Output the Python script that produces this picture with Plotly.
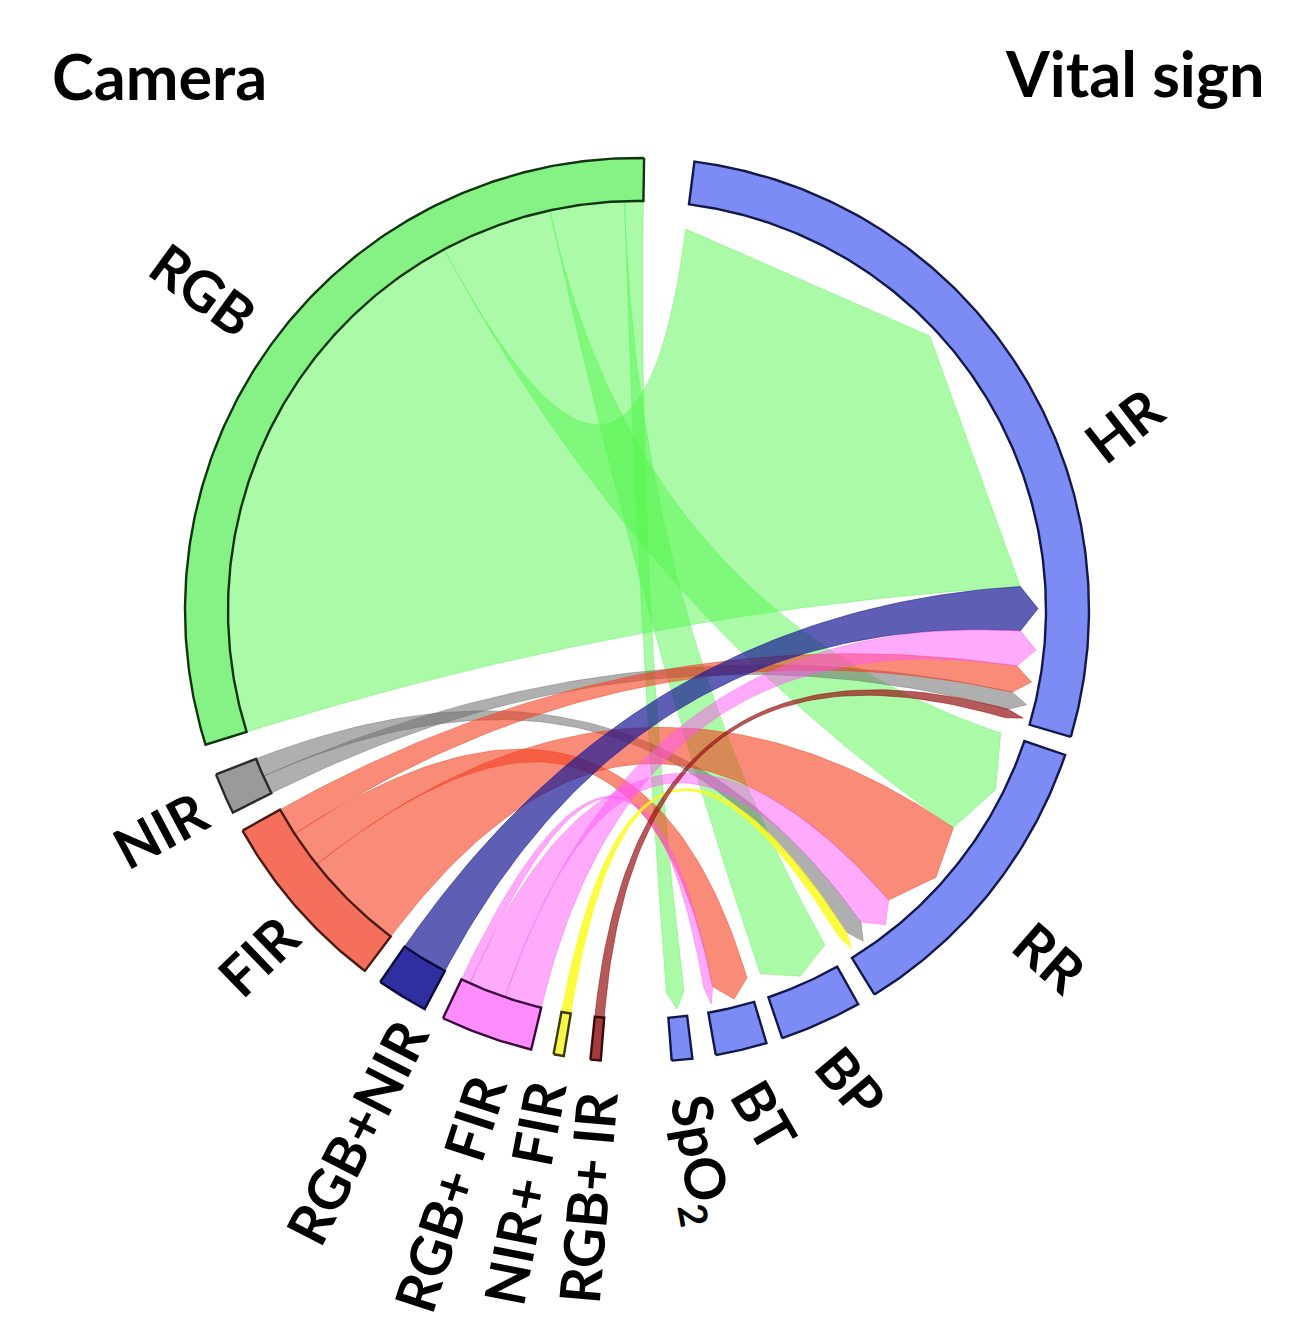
import math
import plotly.graph_objects as go

# ---------------- data ----------------
vitals = ["HR", "RR", "BP", "BT", "SpO2"]
vital_labels = ["HR", "RR", "BP", "BT", "SpO<sub>2</sub>"]
cameras = ["RGB", "NIR", "FIR", "RGB+NIR", "RGB+FIR", "NIR+FIR", "RGB+IR"]
camera_labels = ["RGB", "NIR", "FIR", "RGB+NIR", "RGB+ FIR", "NIR+ FIR", "RGB+ IR"]

# number of links camera -> vital sign (columns follow `vitals`)
rgb_links = [60, 12, 8, 0, 2]
nir_links = [2, 2, 0, 0, 0]
fir_links = [3, 11, 0, 4, 0]
rgb_nir_links = [5, 0, 0, 0, 0]
rgb_fir_links = [4, 4, 0, 1, 0]
nir_fir_links = [0, 1, 0, 0, 0]
rgb_ir_links = [1, 0, 0, 0, 0]

matrix = [rgb_links, nir_links, fir_links, rgb_nir_links,
          rgb_fir_links, nir_fir_links, rgb_ir_links]

# ---------------- layout / style ----------------
W, H = 1303, 1337
CX, CY = 637, 610
R_OUT, R_IN = 452, 409
R_TGT, R_TIP = 384, 401
START = 82.7
order = vitals + cameras[::-1]          # clockwise from the top
gaps = [2.4, 2.4, 2.1, 3.0, 9.0, 3.4, 2.9, 2.6, 2.4, 2.6, 4.0, 6.4]

vital_fill = "#7D8CF5"
ring_fill = {"HR": vital_fill, "RR": vital_fill, "BP": vital_fill, "BT": vital_fill,
             "SpO2": vital_fill, "RGB": "#86F286", "NIR": "#9A9A9A", "FIR": "#F4705C",
             "RGB+NIR": "#2F2F9F", "RGB+FIR": "#FF8CFF", "NIR+FIR": "#F7F74A",
             "RGB+IR": "#A23C3C"}
vital_line = "#12184A"
ring_line = {"HR": vital_line, "RR": vital_line, "BP": vital_line, "BT": vital_line,
             "SpO2": vital_line, "RGB": "#0F350F", "NIR": "#2A2A2A", "FIR": "#4A1A10",
             "RGB+NIR": "#0A0A40", "RGB+FIR": "#3A0A3A", "NIR+FIR": "#3A3A00",
             "RGB+IR": "#3A0A0A"}
chord_rgba = {"RGB": "rgba(85,245,80,0.5)", "NIR": "rgba(110,110,110,0.55)",
              "FIR": "rgba(243,63,30,0.6)", "RGB+NIR": "rgba(26,26,148,0.7)",
              "RGB+FIR": "rgba(255,85,245,0.5)", "NIR+FIR": "rgba(250,250,30,0.85)",
              "RGB+IR": "rgba(150,20,20,0.7)"}

# label placement (polar position around the centre, rotation)
label_theta = {"RGB": 143.5, "HR": 20.8, "NIR": 204.7, "FIR": 222.4, "RGB+NIR": 241.7,
               "RGB+FIR": 252.2, "NIR+FIR": 259.0, "RGB+IR": 265.2, "SpO2": 276.4,
               "BT": 284.2, "BP": 294.4, "RR": 320.0}
label_r = {"RGB": 539, "HR": 521, "NIR": 525, "FIR": 513, "RGB+NIR": 592,
           "RGB+FIR": 613, "NIR+FIR": 593, "RGB+IR": 589, "SpO2": 553,
           "BT": 521, "BP": 519, "RR": 540}
label_rot = {"RGB": 36, "HR": -38, "NIR": -28, "FIR": -44, "RGB+NIR": -63,
             "RGB+FIR": -72, "NIR+FIR": -79, "RGB+IR": -85, "SpO2": 80,
             "BT": 60, "BP": 50, "RR": 41}
FONT = "Lato"

# ---------------- geometry ----------------
totals = {}
for i, c in enumerate(cameras):
    totals[c] = sum(matrix[i])
for j, v in enumerate(vitals):
    totals[v] = sum(matrix[i][j] for i in range(len(cameras)))
unit = (360.0 - sum(gaps)) / sum(totals.values())

span = {}
cur = START
for name, g in zip(order, gaps):
    hi = cur
    lo = hi - totals[name] * unit
    span[name] = (lo, hi)
    cur = lo - g


def pt(r, deg):
    a = math.radians(deg)
    return CX + r * math.cos(a), CY - r * math.sin(a)


def arc(r, a0, a1):
    n = max(2, int(abs(a1 - a0) * 2) + 2)
    return [pt(r, a0 + (a1 - a0) * k / (n - 1)) for k in range(n)]


def bez(p0, p2, n=70):
    out = []
    for k in range(n):
        t = k / (n - 1)
        x = (1 - t) ** 2 * p0[0] + 2 * (1 - t) * t * CX + t * t * p2[0]
        y = (1 - t) ** 2 * p0[1] + 2 * (1 - t) * t * CY + t * t * p2[1]
        out.append((x, y))
    return out


# link slots: sorted decreasing, placed clockwise from each sector's ccw end
src_slot, tgt_slot = {}, {}
for i, c in enumerate(cameras):
    idx = sorted([j for j in range(len(vitals)) if matrix[i][j] > 0],
                 key=lambda j: -matrix[i][j])
    cur = span[c][1]
    for j in idx:
        w = matrix[i][j] * unit
        src_slot[(i, j)] = (cur - w, cur)
        cur -= w
for j, v in enumerate(vitals):
    idx = sorted([i for i in range(len(cameras)) if matrix[i][j] > 0],
                 key=lambda i: -matrix[i][j])
    cur = span[v][1]
    for i in idx:
        w = matrix[i][j] * unit
        tgt_slot[(i, j)] = (cur - w, cur)
        cur -= w

fig = go.Figure()

# chords
for i, c in enumerate(cameras):
    for j, v in enumerate(vitals):
        if matrix[i][j] <= 0:
            continue
        s1, s2 = src_slot[(i, j)]
        t1, t2 = tgt_slot[(i, j)]
        pts = arc(R_IN, s1, s2)
        pts += bez(pt(R_IN, s2), pt(R_TGT, t1))
        pts += [pt(R_TIP, (t1 + t2) / 2), pt(R_TGT, t2)]
        pts += bez(pt(R_TGT, t2), pt(R_IN, s1))
        xs = [p[0] for p in pts] + [pts[0][0]]
        ys = [p[1] for p in pts] + [pts[0][1]]
        fig.add_trace(go.Scatter(x=xs, y=ys, mode="lines", fill="toself",
                                 fillcolor=chord_rgba[c],
                                 line=dict(color=chord_rgba[c], width=0.8),
                                 hoverinfo="skip", showlegend=False))

# sector rings
for name in order:
    lo, hi = span[name]
    pts = arc(R_OUT, lo, hi) + arc(R_IN, hi, lo)
    xs = [p[0] for p in pts] + [pts[0][0]]
    ys = [p[1] for p in pts] + [pts[0][1]]
    fig.add_trace(go.Scatter(x=xs, y=ys, mode="lines", fill="toself",
                             fillcolor=ring_fill[name],
                             line=dict(color=ring_line[name], width=2.4),
                             hoverinfo="skip", showlegend=False))

# labels
all_labels = dict(zip(cameras, camera_labels))
all_labels.update(dict(zip(vitals, vital_labels)))
annotations = []
for name in order:
    x, y = pt(label_r[name], label_theta[name])
    annotations.append(dict(x=x, y=y, xref="x", yref="y", showarrow=False,
                            text="<b>%s</b>" % all_labels[name],
                            textangle=label_rot[name], xanchor="center",
                            yanchor="middle",
                            font=dict(family=FONT, size=56, color="black")))
annotations.append(dict(x=50, y=75, xref="x", yref="y", showarrow=False,
                        text="<b>Camera</b>", xanchor="left", yanchor="middle",
                        font=dict(family=FONT, size=63, color="black")))
annotations.append(dict(x=1267, y=72, xref="x", yref="y", showarrow=False,
                        text="<b>Vital sign</b>", xanchor="right", yanchor="middle",
                        font=dict(family=FONT, size=63, color="black")))

fig.update_layout(width=W, height=H, margin=dict(l=0, r=0, t=0, b=0),
                  paper_bgcolor="white", plot_bgcolor="white",
                  xaxis=dict(range=[0, W], visible=False, fixedrange=True),
                  yaxis=dict(range=[H, 0], visible=False, fixedrange=True),
                  annotations=annotations, showlegend=False)

fig.write_html("out.html", config={"displayModeBar": False},
               post_script="document.body.style.margin='0px';document.body.style.overflow='hidden';")
